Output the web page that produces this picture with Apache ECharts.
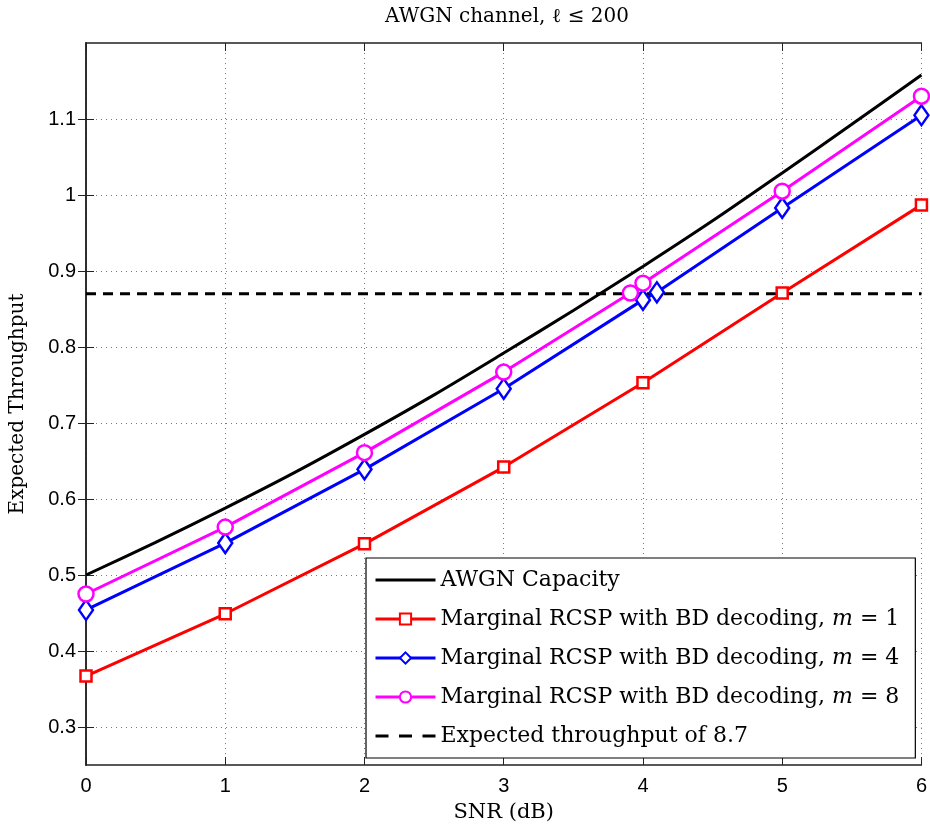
<!DOCTYPE html>
<html><head><meta charset="utf-8">
<script src="https://cdn.jsdelivr.net/npm/echarts@6/dist/echarts.min.js"></script>
<style>html,body{margin:0;padding:0;background:#fff}#c{width:930px;height:828px}</style>
</head><body><div id="c"></div>
<script>
// ---- data ----
const snrCap   = [0, 0.5, 1, 1.5, 2, 2.5, 3, 3.5, 4, 4.5, 5, 5.5, 6];
const capacity = [0.500, 0.543, 0.588, 0.635, 0.685, 0.737, 0.792, 0.848, 0.906, 0.966, 1.029, 1.093, 1.158];
const snrM1 = [0, 1, 2, 3, 4, 5, 6];
const thrM1 = [0.367, 0.449, 0.541, 0.642, 0.753, 0.871, 0.987];
const snrM4 = [0, 1, 2, 3, 4, 4.1, 5, 6];
const thrM4 = [0.454, 0.542, 0.639, 0.745, 0.862, 0.872, 0.983, 1.105];
const snrM8 = [0, 1, 2, 3, 3.91, 4, 5, 6];
const thrM8 = [0.475, 0.563, 0.661, 0.767, 0.871, 0.884, 1.005, 1.130];
const snrTarget = [0, 6];
const thrTarget = [0.87, 0.87];
const xTicks = [0, 1, 2, 3, 4, 5, 6];
const yTicks = [0.3, 0.4, 0.5, 0.6, 0.7, 0.8, 0.9, 1.0, 1.1];

const zip = (xs, ys) => xs.map((x, i) => [x, ys[i]]);
const serif = 'DejaVu Serif';
const sans = 'Liberation Sans';

const chart = echarts.init(document.getElementById('c'), null, {renderer: 'canvas'});
const gridLine = {show: true, lineStyle: {color: '#7a7a7a', width: 1, type: [1, 4]}};
const tickStyle = {show: true, inside: true, length: 8, lineStyle: {color: '#222', width: 1}};
const axisLineStyle = {show: true, lineStyle: {color: '#222', width: 1.5}};

const solidIcon = 'path://M0,0 L60,0 L60,3 L0,3 Z';
const dashIcon = 'path://M0,0 h13 v3 h-13 Z M23.5,0 h13 v3 h-13 Z M47,0 h13 v3 h-13 Z';

const option = {
  animation: false,
  backgroundColor: '#fff',
  title: {
    text: 'AWGN channel, ℓ ≤ 200',
    left: 502, top: 2, textAlign: 'center',
    textStyle: {fontFamily: serif, fontWeight: 'normal', fontSize: 20, color: '#000'}
  },
  grid: {left: 83, top: 43, right: 8, bottom: 63, containLabel: false},
  xAxis: [{
    type: 'value', min: 0, max: 6, interval: 1, position: 'bottom',
    name: 'SNR (dB)', nameLocation: 'middle', nameGap: 37,
    nameTextStyle: {fontFamily: serif, fontSize: 21, color: '#000'},
    axisLine: axisLineStyle, axisTick: tickStyle,
    axisLabel: {fontFamily: sans, fontSize: 20, color: '#000', margin: 11},
    splitLine: gridLine
  }, {
    type: 'value', min: 0, max: 6, interval: 1, position: 'top',
    axisLine: axisLineStyle, axisTick: tickStyle,
    axisLabel: {show: false}, splitLine: {show: false}
  }],
  yAxis: [{
    type: 'value', min: 0.25, max: 1.2, position: 'left',
    name: 'Expected Throughput', nameLocation: 'middle', nameGap: 58, nameRotate: 90,
    nameTextStyle: {fontFamily: serif, fontSize: 20, color: '#000'},
    axisLine: axisLineStyle,
    axisTick: Object.assign({customValues: yTicks}, tickStyle),
    axisLabel: {customValues: yTicks, fontFamily: sans, fontSize: 20, color: '#000', margin: 10,
      formatter: v => String(Number(v.toFixed(2)))},
    splitLine: gridLine
  }, {
    type: 'value', min: 0.25, max: 1.2, position: 'right',
    axisLine: axisLineStyle,
    axisTick: Object.assign({customValues: yTicks}, tickStyle),
    axisLabel: {show: false}, splitLine: {show: false}
  }],
  legend: {
    orient: 'vertical', left: 366, top: 558,
    data: [
      {name: 'AWGN Capacity', icon: solidIcon},
      {name: 'm1'}, {name: 'm4'}, {name: 'm8'},
      {name: 'Expected throughput of 8.7', icon: dashIcon}
    ],
    itemWidth: 60, itemHeight: 14, itemGap: 15,
    padding: [10, 16, 10, 8],
    lineStyle: {width: 3},
    backgroundColor: '#fff', borderColor: '#000', borderWidth: 1.2,
    textStyle: {fontFamily: serif, fontSize: 22, color: '#000', lineHeight: 24,
      rich: {i: {fontFamily: serif, fontStyle: 'italic', fontSize: 22, lineHeight: 24},
             n: {fontFamily: serif, fontSize: 22, lineHeight: 24}}},
    formatter: name => {
      if (name.charAt(0) === 'm' && name.length === 2) {
        return '{n|Marginal RCSP with BD decoding, }{i|m}{n| = ' + name.charAt(1) + '}';
      }
      return name;
    }
  },
  series: [{
    name: 'AWGN Capacity', type: 'line', data: zip(snrCap, capacity),
    smooth: 0.3, showSymbol: false, symbol: 'none',
    lineStyle: {color: '#000', width: 3}, itemStyle: {color: '#000'}, z: 3
  }, {
    name: 'm1', type: 'line', data: zip(snrM1, thrM1),
    symbol: 'rect', symbolSize: 11,
    lineStyle: {color: '#ff0000', width: 3},
    itemStyle: {color: '#fff', borderColor: '#ff0000', borderWidth: 2.5}, z: 4
  }, {
    name: 'm4', type: 'line', data: zip(snrM4, thrM4),
    symbol: 'diamond', symbolSize: [14, 20],
    lineStyle: {color: '#0000ff', width: 3},
    itemStyle: {color: '#fff', borderColor: '#0000ff', borderWidth: 2.5}, z: 4
  }, {
    name: 'm8', type: 'line', data: zip(snrM8, thrM8),
    symbol: 'circle', symbolSize: 15,
    lineStyle: {color: '#ff00ff', width: 3},
    itemStyle: {color: '#fff', borderColor: '#ff00ff', borderWidth: 2.5}, z: 4
  }, {
    name: 'Expected throughput of 8.7', type: 'line', data: zip(snrTarget, thrTarget),
    symbol: 'none', showSymbol: false,
    lineStyle: {color: '#000', width: 3, type: [10, 7]}, itemStyle: {color: '#000'}, z: 2
  }]
};
chart.setOption(option);
</script></body></html>
